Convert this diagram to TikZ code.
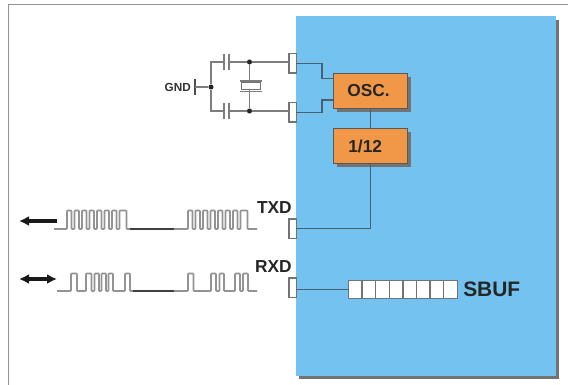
\documentclass[tikz,border=0pt]{standalone}
\usepackage{fontspec}
\setmainfont{Liberation Sans}
\usetikzlibrary{shadows,arrows.meta}
\definecolor{chipblue}{RGB}{115,194,240}
\definecolor{blockorange}{RGB}{240,152,72}
\definecolor{wirecol}{RGB}{72,96,112}
\definecolor{leadcol}{RGB}{125,125,125}
\tikzset{
  x=0.75pt,y=-0.75pt,
  frameline/.style={draw=gray!85,line width=1.2pt},
  pinbox/.style={draw=gray!90!black,fill=white,line width=1.1pt,outer sep=0pt,minimum width=5.6pt,minimum height=14.6pt,inner sep=0pt},
  blockbox/.style={draw=black!65,fill=blockorange,line width=1.1pt,outer sep=0pt,minimum width=55.6pt,minimum height=26.4pt,inner sep=0pt,
    font=\bfseries\fontsize{13}{13}\selectfont,text=black!85,
    drop shadow={shadow xshift=2.4pt,shadow yshift=-2.4pt,fill=black!55,opacity=1}},
  cellbox/.style={draw=gray!90!black,fill=white,line width=1.1pt,outer sep=0pt,minimum width=10.2pt,minimum height=13.4pt,inner sep=0pt},
  wire/.style={draw=wirecol,line width=1.1pt},
  lead/.style={draw=leadcol,line width=1.05pt},
  wave/.style={draw=gray!85,line width=1.15pt,rounded corners=0.6pt},
  idle/.style={draw=black!75,line width=1.1pt},
  dotnode/.style={circle,fill=black!85,inner sep=0pt,minimum size=3.8pt},
  siglabel/.style={font=\bfseries\fontsize{13}{13}\selectfont,text=black!85,inner sep=0pt},
  bigarrow/.style={line width=2.4pt,draw=black!90,-{Latex[length=7.5pt,width=7.5pt]}},
  bigarrowboth/.style={line width=2.4pt,draw=black!90,{Latex[length=7.5pt,width=7.5pt]}-{Latex[length=7.5pt,width=7.5pt]}}
}
\begin{document}
\begin{tikzpicture}
\useasboundingbox (0,0) rectangle (568,385);
\fill[white] (0,0) rectangle (568,385);
% page frame
\draw[frameline] (568,4.5) -- (8.5,4.5) -- (8.5,385);
% chip
\fill[black!55] (299,20) rectangle (559,379);
\fill[chipblue] (295.5,16.5) rectangle (556,376);
% pins
\node[pinbox] (p1) at (292.5,63.5) {};
\node[pinbox] (p2) at (292.5,112.5) {};
\node[pinbox] (p3) at (292.5,228.5) {};
\node[pinbox] (p4) at (292.5,287.5) {};
% blocks
\node[blockbox] (osc) at (370.5,91) {\hspace*{-3pt}OSC.};
\node[blockbox,text depth=0pt] (div) at (370.5,146) {\hspace*{-8pt}1/12};
% clock connections
\coordinate (o1) at (333,78.5);
\coordinate (o2) at (333,100);
\coordinate (m1) at (322,63.5);
\coordinate (m2) at (322,112.5);
\draw[wire] (p1.east) -- (m1) -- (m1|-o1) -- (o1);
\draw[wire] (p2.east) -- (m2) -- (m2|-o2) -- (o2);
\draw[wire] (osc) -- (div);
\draw[wire] (div.south) |- (p3.east);
% SBUF
\node[cellbox,anchor=west] (c1) at (348.5,289.5) {};
\foreach \i [remember=\i as \j (initially 1)] in {2,...,8} {
  \node[cellbox,anchor=west] (c\i) at (c\j.east) {};
}
\draw[wire] (p4.east|-c1.west) -- (c1.west);
\node[anchor=west,inner sep=0pt,font=\bfseries\fontsize{15.7}{15.7}\selectfont,text=black!85] (sbuf) at (463,289.5) {SBUF};
% crystal circuit
\node[font=\bfseries\fontsize{8.8}{8.8}\selectfont,text=black!80,inner sep=0pt,anchor=east] (gnd) at (191,87) {GND};
\node[dotnode] (j0) at (211,87) {};
\node[dotnode] (j1) at (249.5,62) {};
\node[dotnode] (j2) at (249.5,111) {};
\coordinate (gt) at (195,87);
\coordinate (tl) at (211,62);
\coordinate (bl) at (211,111);
\coordinate (ca) at (224,62);
\coordinate (cb) at (229,62);
\coordinate (da) at (224,111);
\coordinate (db) at (229,111);
\draw[lead,draw=black!70] ([yshift=6.2pt]gt) -- ([yshift=-6.2pt]gt);
\draw[lead] (gt) -- (j0);
\draw[lead] (ca) -- (tl) -- (j0);
\draw[lead] (j0) -- (bl) -- (da);
\draw[lead] (cb) -- (j1);
\draw[lead] (j1) -- (j1-|p1.west);
\draw[lead] (db) -- (j2);
\draw[lead] (j2) -- (j2-|p2.west);
\foreach \c in {ca,cb,da,db} {
  \draw[lead] ([yshift=6.2pt]\c) -- ([yshift=-6.2pt]\c);
}
\node[draw=gray!90!black,fill=white,line width=1pt,outer sep=0pt,minimum width=14.5pt,minimum height=5.5pt,inner sep=0pt] (xt) at (251,86) {};
\draw[lead] (j1) -- (xt.north-|j1);
\draw[lead] (j2) -- (xt.south-|j2);
\coordinate (pa) at (251,81);
\coordinate (pb) at (251,91.5);
\draw[lead] ([xshift=-8pt]pa) -- ([xshift=8pt]pa);
\draw[lead] ([xshift=-8pt]pb) -- ([xshift=8pt]pb);
% labels
\node[siglabel,anchor=east] (txd) at (292,208) {TXD};
\node[siglabel,anchor=east] (rxd) at (292,267) {RXD};
% arrows
\coordinate (a1) at (57,221);
\coordinate (a2) at (19,221);
\coordinate (a3) at (57,279);
\coordinate (a4) at (19,279);
\draw[bigarrow] (a1) -- (a2);
\draw[bigarrowboth] (a3) -- (a4);
% TXD waveform
\draw[wave] (54,229)
  foreach \a/\b in {67/71.5,74.5/79,82/86.5,89.5/94,97/101.5,104.5/109,112/116.5,119.5/126.5}
  { -- (\a,229) -- (\a,210.5) -- (\b,210.5) -- (\b,229) } -- (130,229);
\draw[idle] (130,229) -- (174,229);
\draw[wave] (174,229)
  foreach \a/\b in {188/192.5,195.5/200,203/207.5,210.5/215,218/222.5,225.5/230,233/237.5,240.5/247.5}
  { -- (\a,229) -- (\a,210.5) -- (\b,210.5) -- (\b,229) } -- (257,229);
% RXD waveform
\draw[wave] (57,291)
  foreach \a/\b in {71/77,86/91.5,94.5/99,101.5/106,108.5/113,125/130}
  { -- (\a,291) -- (\a,273.5) -- (\b,273.5) -- (\b,291) } -- (133,291);
\draw[idle] (133,291) -- (174,291);
\draw[wave] (174,291)
  foreach \a/\b in {188/193.5,211/216,219.5/224,235/240,243/248}
  { -- (\a,291) -- (\a,273.5) -- (\b,273.5) -- (\b,291) } -- (257,291);
\end{tikzpicture}
\end{document}
